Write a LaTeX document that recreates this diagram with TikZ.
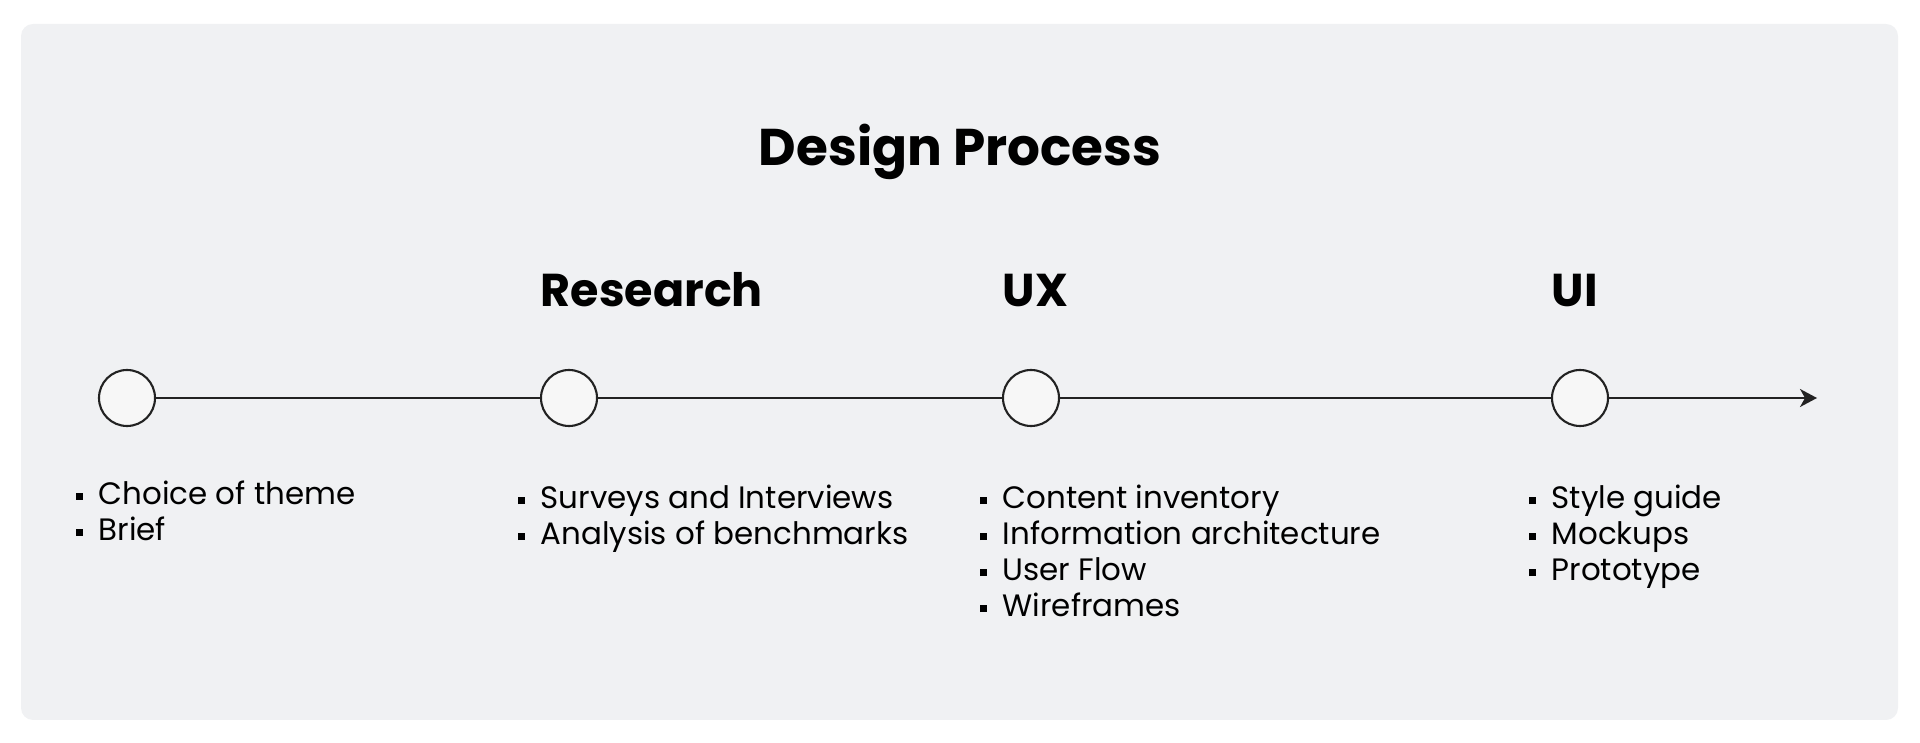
\documentclass[tikz,border=0pt]{standalone}
\usepackage{fontspec}
\setmainfont{Poppins}
\usepackage{tikz}
\usetikzlibrary{arrows.meta, positioning}
\definecolor{panel}{HTML}{F0F1F3}
\definecolor{dotfill}{HTML}{F7F7F7}
\definecolor{ink}{HTML}{222222}
\newcommand{\sqbullet}{\llap{\rule[0.15em]{0.22em}{0.22em}\hspace{0.52em}}}

\begin{document}
\begin{tikzpicture}[
  stage/.style={circle, draw=ink, fill=dotfill, line width=0.6pt, minimum size=0.56cm, inner sep=0pt},
  phase/.style={font=\bfseries\fontsize{13.1}{16}\selectfont, inner sep=0pt},
  tasks/.style={font=\fontsize{8.8}{10.24}\selectfont, align=left, inner sep=0pt},
  link/.style={draw=ink, line width=0.6pt}
]
\useasboundingbox (0,0) rectangle (19.2,7.42);
\fill[panel, rounded corners=0.12cm] (0.21,0.22) rectangle (18.98,7.18);
\node[font=\bfseries\fontsize{14.7}{18}\selectfont, anchor=base, inner sep=0pt] (title) at (9.6,5.76) {Design Process};
\node[stage] (s0) at (1.27,3.44) {};
\node[stage] (s1) at (5.69,3.44) {};
\node[stage] (s2) at (10.31,3.44) {};
\node[stage] (s3) at (15.80,3.44) {};
\coordinate (end) at (18.17,3.44);
\draw[link] (s0) -- (s1) -- (s2) -- (s3);
\draw[link, -{Stealth[length=0.17cm, width=0.18cm, inset=0.05cm]}] (s3) -- (end);
\node[phase, above=0.91cm of s1.west, anchor=base west] (h1) {Research};
\node[phase, above=0.91cm of s2.west, anchor=base west] (h2) {UX};
\node[phase, above=0.91cm of s3.west, anchor=base west] (h3) {UI};
\node[tasks, below=0.82cm of s0.west, anchor=north west] (t0) {\sqbullet Choice of theme\\ \sqbullet Brief};
\node[tasks, below=0.865cm of s1.west, anchor=north west] (t1) {\sqbullet Surveys and Interviews\\ \sqbullet Analysis of benchmarks};
\node[tasks, below=0.865cm of s2.west, anchor=north west] (t2) {\sqbullet Content inventory\\ \sqbullet Information architecture\\ \sqbullet User Flow\\ \sqbullet Wireframes};
\node[tasks, below=0.865cm of s3.west, anchor=north west] (t3) {\sqbullet Style guide\\ \sqbullet Mockups\\ \sqbullet Prototype};
\end{tikzpicture}
\end{document}
